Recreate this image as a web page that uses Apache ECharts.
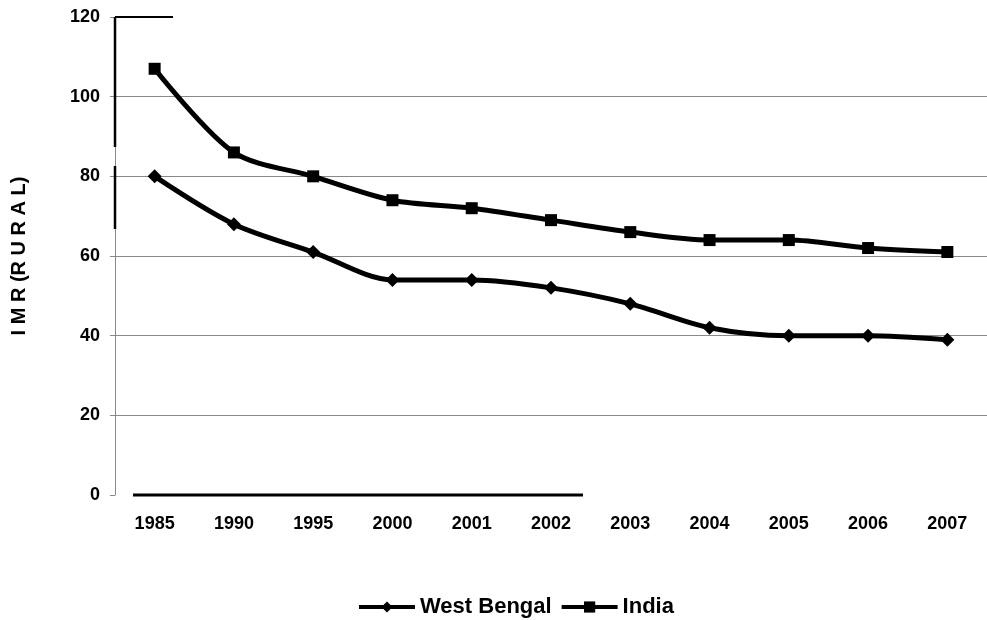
<!DOCTYPE html>
<html>
<head>
<meta charset="utf-8">
<script src="https://cdn.jsdelivr.net/npm/echarts@6/dist/echarts.min.js"></script>
<style>
html,body{margin:0;padding:0;background:#fff;}
#chart{width:987px;height:620px;}
</style>
</head>
<body>
<div id="chart"></div>
<script>
var years = ['1985','1990','1995','2000','2001','2002','2003','2004','2005','2006','2007'];
var westBengal = [80, 68, 61, 54, 54, 52, 48, 42, 40, 40, 39];
var india = [107, 86, 80, 74, 72, 69, 66, 64, 64, 62, 61];
var yTicks = [0, 20, 40, 60, 80, 100, 120];

var FONT = '"Liberation Sans", Arial, sans-serif';
var chart = echarts.init(document.getElementById('chart'), null, {renderer: 'canvas'});
chart.setOption({
  animation: false,
  backgroundColor: '#ffffff',
  grid: {left: 115, right: 0, top: 17, bottom: 125, containLabel: false},
  legend: {
    top: 591,
    left: 352,
    itemWidth: 56,
    itemHeight: 14,
    itemGap: 8,
    lineStyle: {width: 4},
    textStyle: {fontFamily: FONT, fontWeight: 'bold', fontSize: 22, color: '#000'},
    data: ['West Bengal', 'India']
  },
  xAxis: {
    type: 'category',
    data: years,
    boundaryGap: true,
    axisLine: {show: false},
    axisTick: {show: false},
    axisLabel: {fontFamily: FONT, fontWeight: 'bold', fontSize: 18, color: '#000', margin: 20}
  },
  yAxis: {
    type: 'value',
    min: yTicks[0],
    max: yTicks[yTicks.length - 1],
    interval: 20,
    name: 'I M R (R U R A L)',
    nameLocation: 'middle',
    nameGap: 86,
    nameTextStyle: {fontFamily: FONT, fontWeight: 'bold', fontSize: 20, color: '#000'},
    axisLine: {show: true, lineStyle: {color: '#888', width: 1}},
    axisTick: {show: true, length: 5, lineStyle: {color: '#888'}},
    axisLabel: {fontFamily: FONT, fontWeight: 'bold', fontSize: 18, color: '#000', margin: 15},
    splitLine: {show: true, lineStyle: {color: ['rgba(0,0,0,0)', '#888', '#888', '#888', '#888', '#888', 'rgba(0,0,0,0)'], width: 1}}
  },
  graphic: [
    {type: 'line', shape: {x1: 115, y1: 17, x2: 173, y2: 17}, style: {stroke: '#000', lineWidth: 2}, z: 10},
    {type: 'line', shape: {x1: 115, y1: 17, x2: 115, y2: 147}, style: {stroke: '#000', lineWidth: 2.5}, z: 10},
    {type: 'line', shape: {x1: 115, y1: 166, x2: 115, y2: 229}, style: {stroke: '#000', lineWidth: 2.5}, z: 10},
    {type: 'line', shape: {x1: 133, y1: 495, x2: 583, y2: 495}, style: {stroke: '#000', lineWidth: 3}, z: 10}
  ],
  series: [
    {
      name: 'West Bengal',
      type: 'line',
      data: westBengal,
      smooth: 0.3,
      symbol: 'diamond',
      symbolSize: 14,
      showAllSymbol: true,
      lineStyle: {color: '#000', width: 5},
      itemStyle: {color: '#000'}
    },
    {
      name: 'India',
      type: 'line',
      data: india,
      smooth: 0.3,
      symbol: 'rect',
      symbolSize: 12,
      showAllSymbol: true,
      lineStyle: {color: '#000', width: 5},
      itemStyle: {color: '#000'}
    }
  ]
});
</script>
</body>
</html>
